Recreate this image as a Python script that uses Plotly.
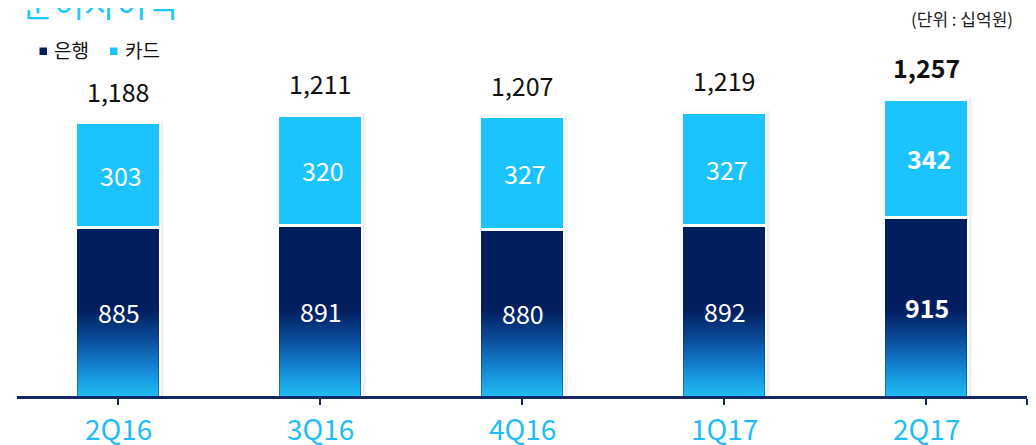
import plotly.graph_objects as go

categories = ["2Q16", "3Q16", "4Q16", "1Q17", "2Q17"]
bank = [885, 891, 880, 892, 915]
card = [303, 320, 327, 327, 342]
totals = [1188, 1211, 1207, 1219, 1257]

NAVY = "#021e5e"
CYAN = "#1cc4ff"
LABEL_CYAN = "#1ebdf5"
FONT = "Noto Sans CJK KR"

Y_MIN, Y_MAX = 397, 1400
BAR_W = 0.415
GRAD_H = 250  # height (in value units) of the gradient at the bar bottom

x = list(range(len(categories)))
n = len(categories)

# the page body has an 8px margin: work in page pixels and subtract it
OFF = 8
W, H = 1036, 445
PLOT_L, PLOT_R, PLOT_T, PLOT_B = 17, 1027, 50, 396  # in page pixels
ML = PLOT_L - OFF
MT = PLOT_T - OFF
MR = W - (PLOT_R - OFF)
MB = H - (PLOT_B - OFF)
PW, PH = W - ML - MR, H - MT - MB


def px_to_paper_x(px):
    return (px - PLOT_L) / PW


def px_to_paper_y(py):
    return (PLOT_B - py) / PH


fig = go.Figure()

# soft shadows behind the bars
for i in x:
    for k, alpha in enumerate([0.035, 0.04, 0.05]):
        grow = 0.014 - 0.005 * k
        fig.add_shape(type="rect", xref="x", yref="y", layer="below",
                      x0=i - BAR_W / 2 - grow * 0.5, x1=i + BAR_W / 2 + grow + 0.008,
                      y0=Y_MIN, y1=totals[i] + 3 + (2 - k) * 2,
                      fillcolor=f"rgba(90,100,130,{alpha})", line_width=0)

fig.add_trace(go.Bar(x=x, y=bank, width=BAR_W, name="은행",
                     marker=dict(color=NAVY, line=dict(color="white", width=2.6)),
                     hoverinfo="skip"))
fig.add_trace(go.Bar(x=x, y=card, width=BAR_W, name="카드",
                     marker=dict(color=CYAN, line=dict(color="white", width=2.6)),
                     hoverinfo="skip"))

# gradient at the lower part of the bank bars
px_x = 1.0 / 202
gx, gy = [], []
half = BAR_W / 2 - 1.3 * px_x
for i in x:
    gx += [i - half, i + half, i + half, i - half, i - half, None]
    gy += [Y_MIN, Y_MIN, Y_MIN + GRAD_H, Y_MIN + GRAD_H, Y_MIN, None]
fig.add_trace(go.Scatter(x=gx, y=gy, mode="lines", fill="toself", line=dict(width=0),
                         fillgradient=dict(type="vertical",
                                           colorscale=[[0, "#20bdf3"], [0.3, "#1589d6"],
                                                       [0.65, "#0a4c9c"], [1, NAVY]],
                                           start=Y_MIN, stop=Y_MIN + GRAD_H),
                         hoverinfo="skip", showlegend=False))

annotations = []
for i in x:
    last = i == n - 1
    fmt = (lambda s: f"<b>{s}</b>") if last else (lambda s: s)
    annotations.append(dict(x=i, y=totals[i], xref="x", yref="y", text=fmt(f"{totals[i]:,}"),
                            showarrow=False, yanchor="middle", yshift=32,
                            font=dict(family=FONT, size=25, color="#111111")))
    annotations.append(dict(x=i + 0.015, y=bank[i] + card[i] / 2, xref="x", yref="y",
                            text=fmt(f"{card[i]:,}"), showarrow=False, yanchor="middle",
                            font=dict(family=FONT, size=25, color="white")))
    annotations.append(dict(x=i + 0.005, y=(Y_MIN + bank[i]) / 2, xref="x", yref="y",
                            text=fmt(f"{bank[i]:,}"), showarrow=False, yanchor="middle",
                            font=dict(family=FONT, size=25, color="white")))

# category labels under the axis
for i in x:
    annotations.append(dict(x=i, y=px_to_paper_y(428), xref="x", yref="paper",
                            text=categories[i], showarrow=False, yanchor="middle",
                            font=dict(family=FONT, size=28, color=LABEL_CYAN)))

# title (partly cut off at the top), unit and legend, placed in page pixels
page_texts = [
    dict(x=20, y=3, text="순이자이익", xanchor="left", size=34, color="#1ec8ff"),
    dict(x=1015, y=18, text="(단위 : 십억원)", xanchor="right", size=17, color="#222222"),
    dict(x=52, y=49, text="은행", xanchor="left", size=19, color="#111111"),
    dict(x=123, y=49, text="카드", xanchor="left", size=19, color="#111111"),
]
for t in page_texts:
    annotations.append(dict(x=px_to_paper_x(t["x"]), y=px_to_paper_y(t["y"]),
                            xref="paper", yref="paper", text=t["text"], showarrow=False,
                            xanchor=t["xanchor"], yanchor="middle",
                            font=dict(family=FONT, size=t["size"], color=t["color"])))

shapes_leg = [
    dict(type="rect", xref="paper", yref="paper",
         x0=px_to_paper_x(39.5), x1=px_to_paper_x(47), y0=px_to_paper_y(47.5), y1=px_to_paper_y(55),
         fillcolor=NAVY, line_width=0),
    dict(type="rect", xref="paper", yref="paper",
         x0=px_to_paper_x(110), x1=px_to_paper_x(117.5), y0=px_to_paper_y(47.5), y1=px_to_paper_y(55),
         fillcolor=CYAN, line_width=0),
]
for s in shapes_leg:
    fig.add_shape(**s)

fig.update_layout(
    width=W, height=H, barmode="stack", showlegend=False,
    margin=dict(l=ML, r=MR, t=MT, b=MB, autoexpand=False),
    plot_bgcolor="white", paper_bgcolor="white",
    annotations=annotations,
    xaxis=dict(range=[-0.5, n - 0.5], tickvals=x + [n - 0.5], ticktext=[""] * (n + 1),
               automargin=False,
               showgrid=False, zeroline=False, showline=True, linecolor="#15296a", linewidth=2.5,
               ticks="outside", ticklen=6, tickwidth=2, tickcolor="#15296a"),
    yaxis=dict(range=[Y_MIN, Y_MAX], visible=False, showgrid=False, zeroline=False,
               automargin=False),
)

fig.write_html("out.html")
